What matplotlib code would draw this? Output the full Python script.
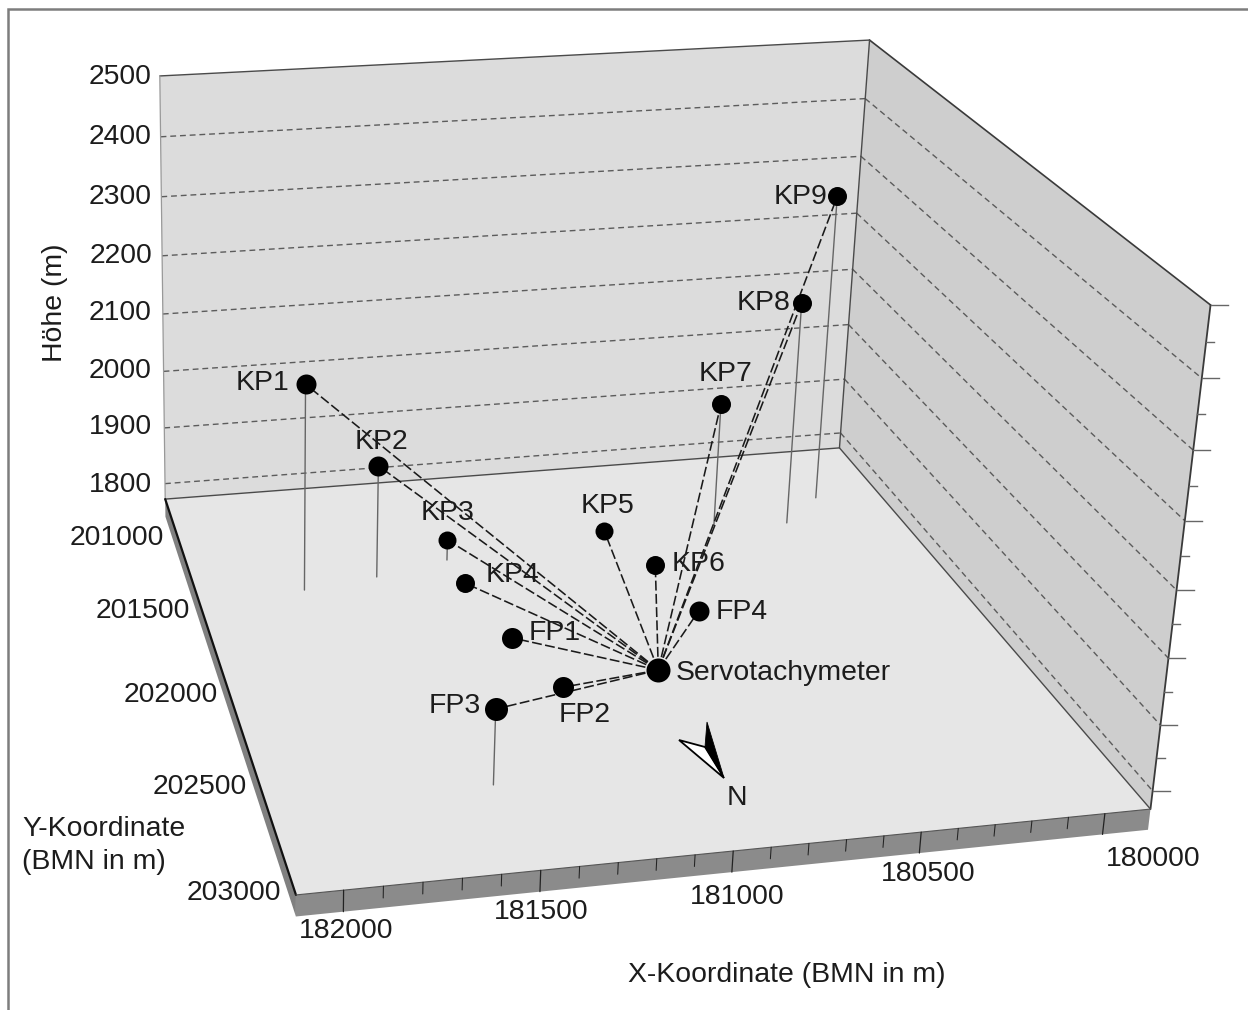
"""3D station sketch: Servotachymeter sight lines to control points (KP) and fixed points (FP)."""

import matplotlib

matplotlib.use("Agg")
import matplotlib.pyplot as plt
import numpy as np
from matplotlib.patches import Polygon

plt.rcParams["font.family"] = ["Liberation Sans", "DejaVu Sans"]

# metres
station_names = ["KP1", "KP2", "KP3", "KP4", "KP5", "KP6", "KP7", "KP8", "KP9", "FP1", "FP2", "FP3", "FP4"]
station_x = [181800, 181571, 181338, 181331, 180812, 180725, 180464, 180235, 180083, 181277, 181199, 181517, 180687]
station_y = [201419, 201373, 201300, 201503, 201190, 201444, 201210, 201235, 201077, 201853, 202124, 202597, 201753]
station_z = [2117, 1962, 1807, 1784, 1772, 1772, 1985, 2155, 2300, 1782, 1772, 1889, 1772]
servo_x, servo_y, servo_z = 180909, 202076, 1772

x_ticks = [182000, 181500, 181000, 180500, 180000]
y_ticks = [201000, 201500, 202000, 202500, 203000]
z_ticks = [1800, 1900, 2000, 2100, 2200, 2300, 2400, 2500]

X0, X1 = 182119, 179874
Y0, Y1 = 200725, 203014
Z0, Z1 = 1772, 2500
Z_BASE = 1740

# calibration of the box corners to image pixels (u, v, w) -> (px, py)
CUBE = np.array([(0, 0, 0), (1, 0, 0), (1, 1, 0), (0, 1, 0), (0, 0, 1), (1, 0, 1), (1, 1, 1)], float)
PIXELS = np.array([(165, 499), (840, 448), (1150, 809), (296, 895), (160, 76), (869, 40), (1211, 305)], float)

# label placement, text centre relative to the marker in pixels
LABEL_OFFSET = [(-43, -1), (3, -24), (0, -27), (47, -8), (3, -25), (43, -1), (5, -30), (-38, 0), (-37, 1),
                (43, -5), (21, 28), (-41, -3), (43, 1)]
MARKER_D = [20, 20, 18, 19, 18, 19, 19, 19, 19, 21, 21, 23, 20]

TEXT = "#1c1c1c"
FS = 20.4


def fit_camera() -> np.ndarray:
    """Least squares 3x4 projection from the box corners."""
    rows = []
    for (u, v, w), (x, y) in zip(CUBE, PIXELS):
        rows.append([u, v, w, 1, 0, 0, 0, 0, -x * u, -x * v, -x * w, -x])
        rows.append([0, 0, 0, 0, u, v, w, 1, -y * u, -y * v, -y * w, -y])
    return np.linalg.svd(np.array(rows))[2][-1].reshape(3, 4)


CAMERA = fit_camera()


def project(x, y, z):
    """Map metres to image pixels."""
    u = (x - X0) / (X1 - X0)
    v = (y - Y0) / (Y1 - Y0)
    w = (z - Z0) / (Z1 - Z0)
    h = CAMERA @ np.array([u, v, w, 1.0])
    return h[0] / h[2], h[1] / h[2]


def face(ax, corners, color, zorder=1):
    ax.add_patch(Polygon([project(*c) for c in corners], closed=True, fc=color, ec="none", zorder=zorder))


def seg(ax, a, b, **kw):
    pa, pb = project(*a), project(*b)
    ax.plot([pa[0], pb[0]], [pa[1], pb[1]], solid_capstyle="round", **kw)


def draw_box(ax):
    face(ax, [(X0, Y0, Z0), (X1, Y0, Z0), (X1, Y0, Z1), (X0, Y0, Z1)], "#dcdcdc")
    face(ax, [(X1, Y0, Z0), (X1, Y1, Z0), (X1, Y1, Z1), (X1, Y0, Z1)], "#cecece")
    face(ax, [(X0, Y0, Z0), (X1, Y0, Z0), (X1, Y1, Z0), (X0, Y1, Z0)], "#e6e6e6")
    face(ax, [(X0, Y1, Z0), (X1, Y1, Z0), (X1, Y1, Z_BASE), (X0, Y1, Z_BASE)], "#8b8b8b")
    face(ax, [(X0, Y0, Z0), (X0, Y1, Z0), (X0, Y1, Z_BASE), (X0, Y0, Z_BASE)], "#808080")

    dash = (0, (4.2, 2.8))
    for z in z_ticks[:-1]:
        seg(ax, (X0, Y0, z), (X1, Y0, z), color="#5c5c5c", lw=1.0, ls=dash, zorder=2)
        seg(ax, (X1, Y0, z), (X1, Y1, z), color="#5c5c5c", lw=1.0, ls=dash, zorder=2)

    edge = dict(color="#4a4a4a", lw=1.0, zorder=3)
    seg(ax, (X0, Y0, Z1), (X1, Y0, Z1), **edge)
    seg(ax, (X1, Y0, Z1), (X1, Y1, Z1), color="#3a3a3a", lw=1.2, zorder=3)
    seg(ax, (X1, Y1, Z1), (X1, Y1, Z0), color="#3a3a3a", lw=1.3, zorder=3)
    seg(ax, (X1, Y0, Z0), (X1, Y0, Z1), **edge)
    seg(ax, (X0, Y0, Z0), (X1, Y0, Z0), **edge)
    seg(ax, (X1, Y0, Z0), (X1, Y1, Z0), **edge)
    seg(ax, (X0, Y0, Z0), (X0, Y0, Z1), color="#999999", lw=0.9, zorder=3)
    seg(ax, (X0, Y0, Z0), (X0, Y1, Z0), color="#111111", lw=1.6, zorder=3)
    seg(ax, (X0, Y1, Z0), (X1, Y1, Z0), color="#555555", lw=0.8, zorder=3)

    # ticks on the slab and on the right wall edge
    for x in range(180000, 182001, 100):
        major = x in x_ticks
        low = Z_BASE if major else Z0 - (Z0 - Z_BASE) * 0.55
        seg(ax, (x, Y1, Z0), (x, Y1, low), color="#222222", lw=0.9 if major else 0.75, zorder=4)
    for z in range(1800, 2501, 50):
        px, py = project(X1, Y1, z)
        length = 17 if z in z_ticks else 8
        ax.plot([px, px + length], [py, py], color="#666666", lw=1.0, zorder=3)


def draw_stations(ax):
    for x, y, z in zip(station_x, station_y, station_z):
        if z > Z0 + 5:
            seg(ax, (x, y, z), (x, y, Z0), color="#666666", lw=1.0, zorder=5)
    sight = (0, (6.2, 2.1))
    for x, y, z in zip(station_x, station_y, station_z):
        seg(ax, (servo_x, servo_y, servo_z), (x, y, z), color="#1a1a1a", lw=1.15, ls=sight, zorder=6)
    for name, x, y, z, off, d in zip(station_names, station_x, station_y, station_z, LABEL_OFFSET, MARKER_D):
        px, py = project(x, y, z)
        ax.scatter([px], [py], s=(d * 0.72) ** 2, color="black", linewidths=0, zorder=7)
        ax.text(px + off[0], py + off[1], name, ha="center", va="center", fontsize=FS, color=TEXT, zorder=8)
    px, py = project(servo_x, servo_y, servo_z)
    ax.scatter([px], [py], s=(24 * 0.72) ** 2, color="black", linewidths=0, zorder=7)
    ax.text(px + 17, py + 3, "Servotachymeter", ha="left", va="center", fontsize=FS, color=TEXT, zorder=8)


def draw_north(ax):
    ax.add_patch(Polygon([(679, 740), (705, 747), (724, 778)], closed=True, fc="white", ec="black", lw=1.3,
                         joinstyle="miter", zorder=7))
    ax.add_patch(Polygon([(707, 722), (705, 747), (724, 778)], closed=True, fc="black", ec="black", lw=0.6,
                         joinstyle="miter", zorder=7))
    ax.text(737, 798, "N", ha="center", va="center", fontsize=FS, color=TEXT, zorder=8)


def draw_labels(ax):
    for z, py in zip(z_ticks[::-1], [77, 137, 197, 256, 313, 371, 427, 485]):
        ax.text(152, py, str(z), ha="right", va="center", fontsize=FS, color=TEXT)
    for y, (px, py) in zip(y_ticks, [(164, 538), (190, 611), (218, 695), (247, 787), (281, 893)]):
        ax.text(px, py, str(y), ha="right", va="center", fontsize=FS, color=TEXT)
    for x, (px, py) in zip(x_ticks, [(346, 931), (541, 912), (737, 897), (928, 874), (1153, 859)]):
        ax.text(px, py, str(x), ha="center", va="center", fontsize=FS, color=TEXT)
    ax.text(55, 303, "Höhe (m)", rotation=90, ha="center", va="center", fontsize=FS, color=TEXT)
    ax.text(22, 829, "Y-Koordinate", ha="left", va="center", fontsize=FS, color=TEXT)
    ax.text(22, 862, "(BMN in m)", ha="left", va="center", fontsize=FS, color=TEXT)
    ax.text(787, 975, "X-Koordinate (BMN in m)", ha="center", va="center", fontsize=FS, color=TEXT)


def main():
    fig = plt.figure(figsize=(12.48, 10.10), dpi=100)
    ax = fig.add_axes([0, 0, 1, 1])
    ax.set_xlim(0, 1248)
    ax.set_ylim(1010, 0)
    ax.axis("off")
    # frame of the scanned figure, only left and top survive
    ax.plot([7.5, 7.5, 1248], [1010, 8.5, 8.5], color="#7d7d7d", lw=1.8, solid_joinstyle="miter")
    draw_box(ax)
    draw_stations(ax)
    draw_north(ax)
    draw_labels(ax)
    fig.savefig("out.png", dpi=100, facecolor="white")
    plt.close(fig)


if __name__ == "__main__":
    main()
